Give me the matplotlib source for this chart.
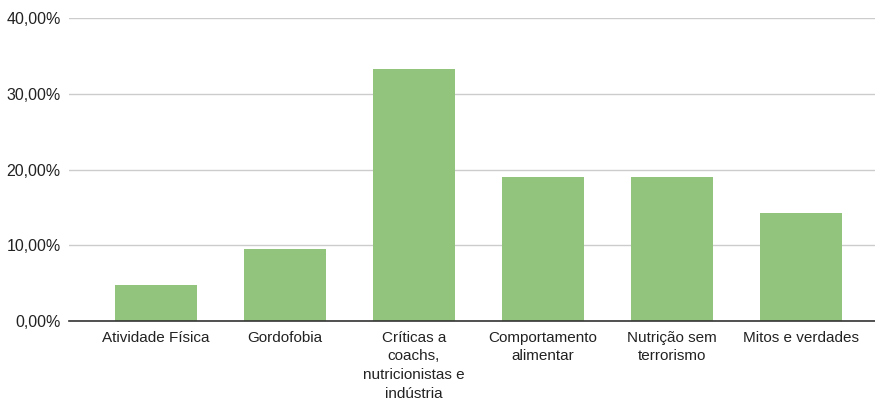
import numpy as np
import matplotlib.pyplot as plt
from matplotlib.ticker import FuncFormatter

categorias = ["Atividade Física", "Gordofobia", "Críticas a\ncoachs,\nnutricionistas e\nindústria",
              "Comportamento\nalimentar", "Nutrição sem\nterrorismo", "Mitos e verdades"]
percentuais = [4.76, 9.52, 33.33, 19.05, 19.05, 14.29]
ticks_y = [0, 10, 20, 30, 40]

plt.rcParams['font.family'] = ['Liberation Sans', 'DejaVu Sans']

fig = plt.figure(figsize=(8.75, 4.01), dpi=100)
ax = fig.add_axes([69 / 875, 0.1995, 806 / 875, 0.7556])

x = np.arange(len(categorias))
ax.bar(x, percentuais, width=0.635, color="#93c47d", zorder=3)

# area de plotagem um pouco deslocada como no Sheets
ax.set_xlim(-0.674, 5.574)
ax.set_ylim(0, 40)
ax.set_yticks(ticks_y)
ax.yaxis.set_major_formatter(FuncFormatter(lambda v, p: f"{v:.2f}%".replace(".", ",")))
ax.set_xticks(x)
ax.set_xticklabels(categorias, linespacing=1.42)

ax.grid(axis="y", color="#cccccc", linewidth=1, zorder=0)
for lado in ["top", "right", "left"]:
    ax.spines[lado].set_visible(False)
ax.spines["bottom"].set_color("#333333")
ax.spines["bottom"].set_linewidth(1.2)
ax.spines["bottom"].set_zorder(4)
ax.tick_params(axis="both", length=0, colors="#222222")
ax.tick_params(axis="x", pad=7, labelsize=11)
ax.tick_params(axis="y", pad=6, labelsize=11.5)

fig.savefig("out.png", dpi=100)
